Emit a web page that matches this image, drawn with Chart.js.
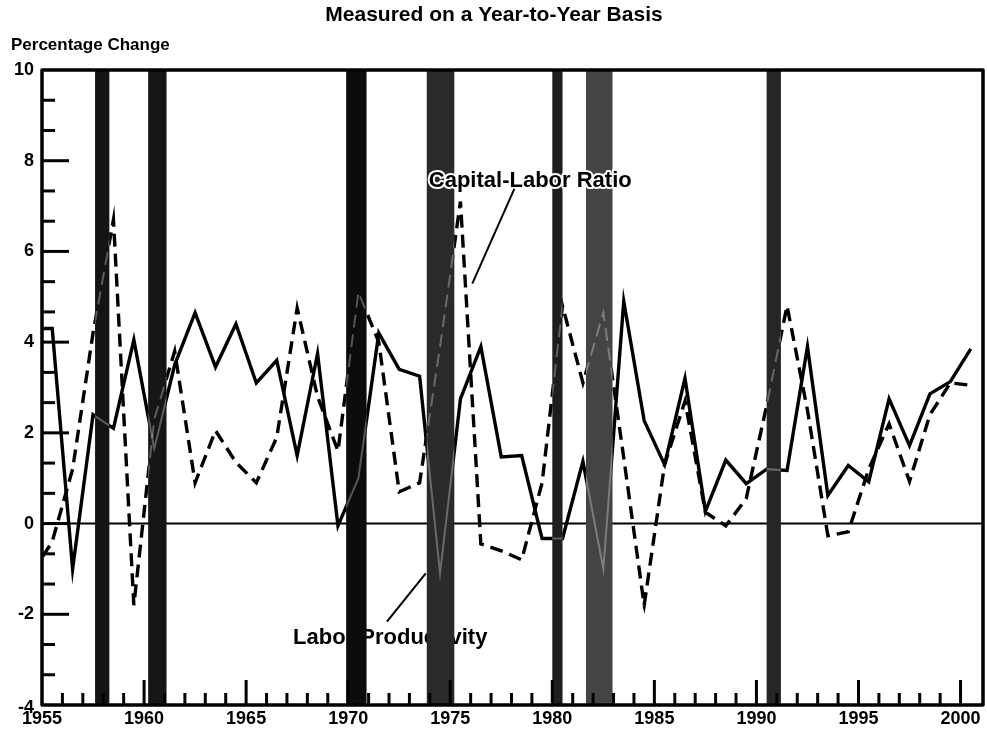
<!DOCTYPE html>
<html>
<head>
<meta charset="utf-8">
<script src="https://cdn.jsdelivr.net/npm/chart.js@4.4.1/dist/chart.umd.min.js"></script>
<style>
  html, body { margin: 0; padding: 0; background: #fff; }
  #chart { display: block; }
</style>
</head>
<body>
<canvas id="chart" width="987" height="733"></canvas>
<script>
// annual data, plotted at mid-year (1954 is only there so the line runs to the axis)
const years = [1954, 1955, 1956, 1957, 1958, 1959, 1960, 1961, 1962, 1963, 1964,
  1965, 1966, 1967, 1968, 1969, 1970, 1971, 1972, 1973, 1974,
  1975, 1976, 1977, 1978, 1979, 1980, 1981, 1982, 1983, 1984,
  1985, 1986, 1987, 1988, 1989, 1990, 1991, 1992, 1993, 1994,
  1995, 1996, 1997, 1998, 1999, 2000];

const productivity = [4.3, 4.3, -1.0, 2.4, 2.1, 4.05, 1.65, 3.5, 4.65, 3.45, 4.4,
  3.1, 3.6, 1.5, 3.75, -0.05, 1.0, 4.2, 3.4, 3.25, -1.1,
  2.75, 3.9, 1.47, 1.5, -0.33, -0.33, 1.37, -1.0, 4.9, 2.27,
  1.3, 3.2, 0.27, 1.4, 0.88, 1.2, 1.17, 3.9, 0.62, 1.28,
  0.92, 2.75, 1.72, 2.86, 3.13, 3.85];

const capitalLabor = [-1.1, -0.4, 1.2, 4.2, 6.7, -1.8, 2.3, 3.8, 0.9, 2.05, 1.35,
  0.9, 1.9, 4.75, 2.8, 1.6, 5.1, 4.0, 0.7, 0.9, 3.9,
  7.1, -0.45, -0.6, -0.8, 0.9, 4.8, 3.1, 4.65, 1.45, -1.8,
  1.3, 2.7, 0.25, -0.05, 0.55, 2.6, 4.8, 2.5, -0.27, -0.18,
  1.2, 2.2, 0.93, 2.4, 3.1, 3.05];

// recession shading (fractional years)
const recessionStart = [1957.6, 1960.2, 1969.9, 1973.85, 1980.0, 1981.65, 1990.5];
const recessionEnd   = [1958.3, 1961.1, 1970.9, 1975.2, 1980.5, 1982.95, 1991.2];
const recessionShade = ['#141414', '#161616', '#0c0c0c', '#2a2a2a', '#1e1e1e', '#444444', '#262626'];

const xTickLabels = ['1955', '1960', '1965', '1970', '1975', '1980', '1985', '1990', '1995', '2000'];
const yTickLabels = ['-4', '-2', '0', '2', '4', '6', '8', '10'];

const FONT = '"Liberation Sans", Arial, Helvetica, sans-serif';

function toPoints(vals) {
  return years.map((y, i) => ({ x: y + 0.5, y: vals[i] }));
}

// faint trace of a series where it runs through a shaded bar
function traceSeries(ctx, x, y, vals, dash) {
  ctx.setLineDash(dash);
  ctx.beginPath();
  years.forEach((yr, i) => {
    const px = x.getPixelForValue(yr + 0.5), py = y.getPixelForValue(vals[i]);
    if (i === 0) ctx.moveTo(px, py); else ctx.lineTo(px, py);
  });
  ctx.stroke();
}

const decorations = {
  id: 'decorations',
  beforeDatasetsDraw(chart) {
    const { ctx, chartArea: a, scales: { x, y } } = chart;
    ctx.save();
    // zero line
    ctx.strokeStyle = '#000';
    ctx.lineWidth = 2;
    ctx.beginPath();
    ctx.moveTo(a.left, y.getPixelForValue(0));
    ctx.lineTo(a.right, y.getPixelForValue(0));
    ctx.stroke();
    // label that sits under the recession bars
    ctx.fillStyle = '#000';
    ctx.font = 'bold 22px ' + FONT;
    ctx.textBaseline = 'middle';
    ctx.fillText('Labor Productivity', x.getPixelForValue(1967.3), y.getPixelForValue(-2.53));
    ctx.lineWidth = 2;
    ctx.beginPath();
    ctx.moveTo(x.getPixelForValue(1971.9), y.getPixelForValue(-2.16));
    ctx.lineTo(x.getPixelForValue(1973.8), y.getPixelForValue(-1.1));
    ctx.stroke();
    ctx.restore();
  },
  afterDatasetsDraw(chart) {
    const { ctx, chartArea: a, scales: { x, y } } = chart;
    ctx.save();
    // recession bars
    recessionStart.forEach((s, i) => {
      const x0 = x.getPixelForValue(s), x1 = x.getPixelForValue(recessionEnd[i]);
      ctx.fillStyle = recessionShade[i];
      ctx.fillRect(x0, a.top, x1 - x0, a.bottom - a.top);
      ctx.save();
      ctx.beginPath();
      ctx.rect(x0, a.top, x1 - x0, a.bottom - a.top);
      ctx.clip();
      ctx.strokeStyle = 'rgba(255,255,255,0.3)';
      ctx.lineWidth = 2;
      traceSeries(ctx, x, y, productivity, []);
      traceSeries(ctx, x, y, capitalLabor, [13, 7]);
      ctx.restore();
    });

    // capital-labor label drawn over the bars
    ctx.font = 'bold 22px ' + FONT;
    ctx.textBaseline = 'middle';
    ctx.lineJoin = 'round';
    ctx.strokeStyle = '#fff';
    ctx.lineWidth = 4;
    const cx = x.getPixelForValue(1973.95), cy = y.getPixelForValue(7.55);
    ctx.strokeText('Capital-Labor Ratio', cx, cy);
    ctx.fillStyle = '#000';
    ctx.fillText('Capital-Labor Ratio', cx, cy);
    ctx.strokeStyle = '#000';
    ctx.lineWidth = 2;
    ctx.beginPath();
    ctx.moveTo(x.getPixelForValue(1978.14), y.getPixelForValue(7.38));
    ctx.lineTo(x.getPixelForValue(1976.08), y.getPixelForValue(5.29));
    ctx.stroke();

    // x ticks (inside, pointing up)
    ctx.lineWidth = 3;
    for (let yr = 1956; yr <= 2000; yr++) {
      const px = x.getPixelForValue(yr);
      const len = yr % 5 === 0 ? 25 : 12;
      ctx.beginPath();
      ctx.moveTo(px, a.bottom);
      ctx.lineTo(px, a.bottom - len);
      ctx.stroke();
    }
    // y ticks every 2/3 of a unit, long ones on the even labels
    for (let k = 1; k < 21; k++) {
      const py = y.getPixelForValue(-4 + k * 2 / 3);
      const len = k % 3 === 0 ? 27 : 13;
      ctx.beginPath();
      ctx.moveTo(a.left, py);
      ctx.lineTo(a.left + len, py);
      ctx.stroke();
    }

    // frame
    ctx.lineWidth = 3.5;
    ctx.strokeRect(a.left, a.top, a.right - a.left, a.bottom - a.top);

    // tick labels
    ctx.fillStyle = '#000';
    ctx.font = 'bold 18px ' + FONT;
    ctx.textAlign = 'right';
    ctx.textBaseline = 'middle';
    yTickLabels.forEach(t => {
      const v = Number(t);
      ctx.fillText(t, a.left - 8, y.getPixelForValue(v) + (v === -4 ? 3 : 0));
    });
    ctx.textAlign = 'center';
    ctx.textBaseline = 'top';
    xTickLabels.forEach(t => {
      ctx.fillText(t, x.getPixelForValue(Number(t)), a.bottom + 5);
    });

    // titles
    ctx.font = 'bold 21px ' + FONT;
    ctx.textBaseline = 'middle';
    ctx.fillText('Measured on a Year-to-Year Basis', 494, 15);
    ctx.font = 'bold 17px ' + FONT;
    ctx.textAlign = 'left';
    ctx.fillText('Percentage Change', 11, 45);
    ctx.restore();
  }
};

const chart = new Chart(document.getElementById('chart'), {
  type: 'line',
  data: {
    datasets: [
      {
        label: 'Labor Productivity',
        data: toPoints(productivity),
        borderColor: '#000',
        borderWidth: 3.4,
        borderJoinStyle: 'miter',
        pointRadius: 0,
        tension: 0,
        clip: 0
      },
      {
        label: 'Capital-Labor Ratio',
        data: toPoints(capitalLabor),
        borderColor: '#000',
        borderWidth: 3.4,
        borderDash: [13, 7],
        borderJoinStyle: 'miter',
        pointRadius: 0,
        tension: 0,
        clip: 0
      }
    ]
  },
  options: {
    responsive: false,
    animation: false,
    devicePixelRatio: 1,
    layout: { padding: { left: 42, right: 4, top: 70, bottom: 28 } },
    plugins: { legend: { display: false }, tooltip: { enabled: false } },
    scales: {
      x: { type: 'linear', min: 1955, max: 2001.1, display: false },
      y: { type: 'linear', min: -4, max: 10, display: false }
    }
  },
  plugins: [decorations]
});
</script>
</body>
</html>
